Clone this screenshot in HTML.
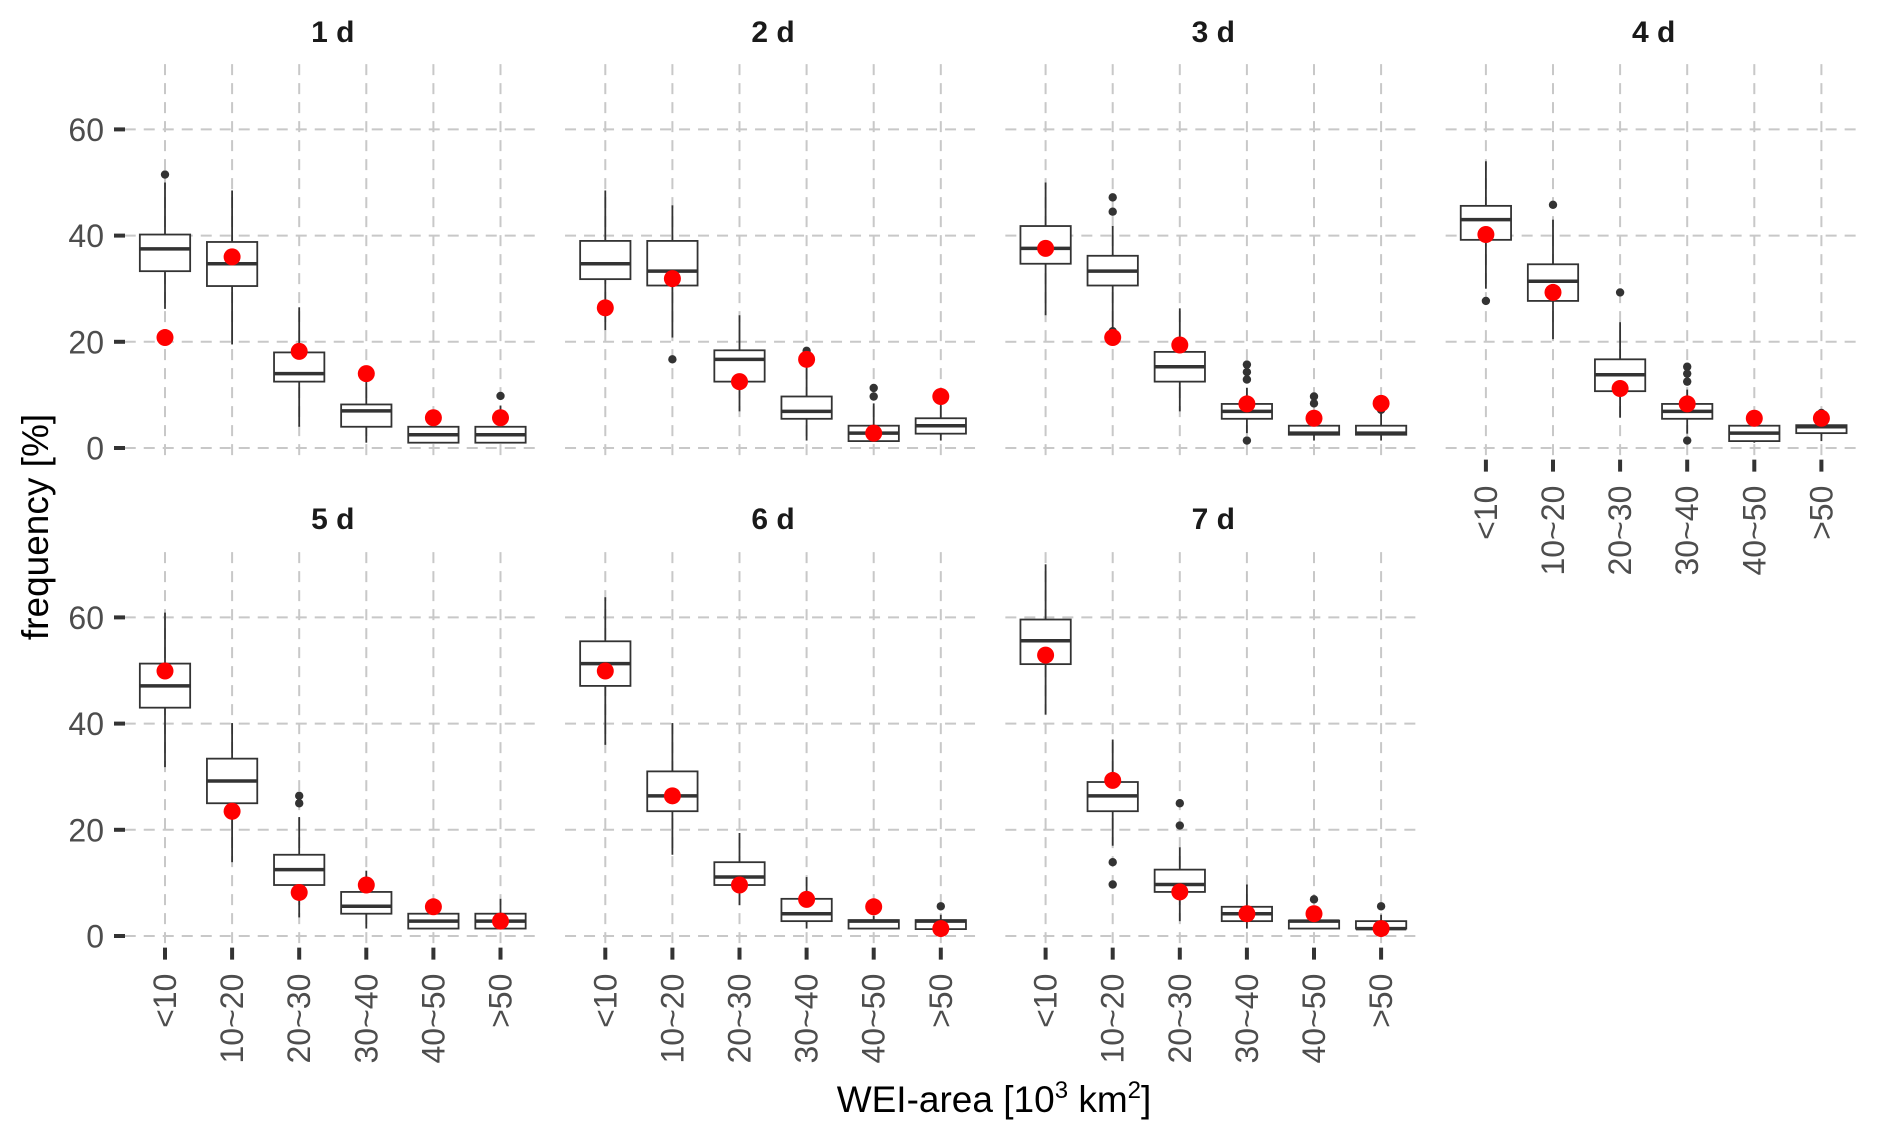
<!DOCTYPE html>
<html><head><meta charset="utf-8">
<style>
html,body{margin:0;padding:0;background:#fff;}
svg{display:block;font-family:"Liberation Sans",Arial,sans-serif;}
</style></head>
<body>
<svg id="chart" width="1879" height="1140" viewBox="0 0 1879 1140"></svg>
<script>
const categories = ["<10","10~20","20~30","30~40","40~50",">50"];
const panelTitles = ["1 d","2 d","3 d","4 d","5 d","6 d","7 d"];
const yTicks = [0,20,40,60];
const q1Vals = [
 [33.3,30.5,12.5,4.0,1.0,1.0],
 [31.8,30.6,12.5,5.5,1.3,2.7],
 [34.7,30.6,12.5,5.5,2.5,2.5],
 [39.2,27.7,10.7,5.5,1.3,2.8],
 [43.0,25.0,9.6,4.2,1.4,1.4],
 [47.1,23.5,9.6,2.8,1.4,1.3],
 [51.2,23.5,8.3,2.8,1.4,1.4]];
const medVals = [
 [37.5,34.7,14.0,7.0,2.5,2.5],
 [34.7,33.3,16.7,6.9,2.8,4.2],
 [37.6,33.3,15.3,6.9,2.8,2.8],
 [43.0,31.4,13.8,6.9,2.8,4.0],
 [47.1,29.2,12.5,5.6,2.8,2.8],
 [51.3,26.4,11.1,4.2,2.8,2.8],
 [55.6,26.4,9.7,4.2,2.8,1.4]];
const q3Vals = [
 [40.2,38.8,18.0,8.2,4.0,4.0],
 [39.0,39.0,18.4,9.7,4.2,5.6],
 [41.8,36.2,18.1,8.3,4.2,4.2],
 [45.6,34.6,16.7,8.3,4.2,4.3],
 [51.3,33.4,15.3,8.3,4.2,4.2],
 [55.5,31.0,13.9,7.0,3.0,3.0],
 [59.6,29.0,12.5,5.5,2.9,2.8]];
const loVals = [
 [26.2,19.5,4.0,1.0,1.0,1.0],
 [22.2,20.8,6.9,1.4,1.3,1.4],
 [25.0,22.6,6.9,2.8,1.4,1.4],
 [30.0,20.5,5.7,2.7,1.0,1.3],
 [31.8,13.9,3.5,1.4,1.4,1.4],
 [36.0,15.3,5.8,1.4,1.4,1.3],
 [41.7,17.0,2.8,1.4,1.4,1.4]];
const hiVals = [
 [50.0,48.5,26.5,14.0,6.5,8.0],
 [48.5,45.7,25.0,18.0,8.4,8.4],
 [50.0,41.8,26.3,11.3,6.6,6.6],
 [54.0,43.0,23.7,11.0,5.8,6.4],
 [60.9,40.1,22.4,12.3,6.6,7.0],
 [63.8,40.1,19.4,11.1,3.8,4.0],
 [70.0,37.0,16.7,9.7,5.0,4.0]];
const outlierVals = [
 [[51.5],[],[],[],[],[9.8]],
 [[],[16.7],[],[18.3],[11.3,9.7],[]],
 [[],[47.2,44.5,22.0],[],[15.7,14.3,12.9,1.4],[9.7,8.4],[7.2]],
 [[27.7],[45.8],[29.3],[15.3,14.0,12.5,1.4],[],[6.6]],
 [[],[],[26.4,25.0],[],[],[]],
 [[],[],[],[],[],[5.6]],
 [[],[13.9,9.7],[25.0,20.8],[],[6.9],[5.6]]];
const observedVals = [
 [20.8,36.0,18.2,14.0,5.7,5.7],
 [26.4,31.9,12.5,16.7,2.8,9.7],
 [37.6,20.8,19.4,8.3,5.6,8.4],
 [40.2,29.3,11.2,8.3,5.6,5.6],
 [49.9,23.5,8.2,9.6,5.5,2.8],
 [49.9,26.4,9.6,6.9,5.5,1.4],
 [52.9,29.3,8.3,4.2,4.2,1.4]];

const NS="http://www.w3.org/2000/svg";
const svg=document.getElementById('chart');
function mk(tag,attrs,parent){const e=document.createElementNS(NS,tag);for(const k in attrs)e.setAttribute(k,attrs[k]);(parent||svg).appendChild(e);return e;}

const catStep=67.1, firstCatX=165, panelStep=440.3;
const rowY0=[448,936], unit=5.31;
const yMin=-2, yMax=72.3;
function xPos(p,c){return firstCatX+(p%4)*panelStep+c*catStep;}
function yPos(p,v){return rowY0[Math.floor(p/4)]-v*unit;}

for(let p=0;p<panelTitles.length;p++){
  const row=Math.floor(p/4), col=p%4;
  const g=mk('g',{});
  
  
  const left=xPos(p,0)-0.6*catStep, right=xPos(p,5)+0.6*catStep;
  const top=yPos(p,yMax), bottom=yPos(p,yMin);
  yTicks.forEach(t=>{
    const l=mk('line',{x1:left,x2:right,y1:yPos(p,t),y2:yPos(p,t),stroke:'#c8c8c8','stroke-width':2,'stroke-dasharray':'11,8'},g);
    
    
  });
  categories.forEach((c,i)=>{
    const l=mk('line',{x1:xPos(p,i),x2:xPos(p,i),y1:top,y2:bottom,stroke:'#c8c8c8','stroke-width':2,'stroke-dasharray':'11,8'},g);
    
    
  });
  const st=mk('text',{x:(left+right)/2,y:row===0?42:529,'text-anchor':'middle','font-size':30,'font-weight':'bold',fill:'#1a1a1a'},g);
  st.textContent=panelTitles[p];
  
  
  if(col===0){
    yTicks.forEach(t=>{
      const tk=mk('line',{x1:114,x2:125,y1:yPos(p,t),y2:yPos(p,t),stroke:'#333','stroke-width':4},g);
      
      
      const tl=mk('text',{x:104,y:yPos(p,t)+11.5,'text-anchor':'end','font-size':32,fill:'#4d4d4d'},g);
      tl.textContent=t;
      
      
    });
  }
  if(row===1||p===3){
    const ty=bottom+1;
    categories.forEach((c,i)=>{
      const tk=mk('line',{x1:xPos(p,i),x2:xPos(p,i),y1:ty,y2:ty+12,stroke:'#333','stroke-width':4},g);
      
      
      const lx=xPos(p,i)+11, ly=ty+26;
      const tl=mk('text',{x:lx,y:ly,'text-anchor':'end','font-size':32,fill:'#4d4d4d',transform:'rotate(-90 '+lx+' '+ly+')'},g);
      tl.textContent=c;
      
      
    });
  }
  const bw=0.75*catStep;
  categories.forEach((c,i)=>{
    const x=xPos(p,i);
    const bg=mk('g',{},g);
    
    
    mk('line',{x1:x,x2:x,y1:yPos(p,hiVals[p][i]),y2:yPos(p,q3Vals[p][i]),stroke:'#333','stroke-width':1.8},bg);
    mk('line',{x1:x,x2:x,y1:yPos(p,q1Vals[p][i]),y2:yPos(p,loVals[p][i]),stroke:'#333','stroke-width':1.8},bg);
    mk('rect',{x:x-bw/2,y:yPos(p,q3Vals[p][i]),width:bw,height:yPos(p,q1Vals[p][i])-yPos(p,q3Vals[p][i]),fill:'#fff',stroke:'#333','stroke-width':1.8},bg);
    mk('line',{x1:x-bw/2,x2:x+bw/2,y1:yPos(p,medVals[p][i]),y2:yPos(p,medVals[p][i]),stroke:'#333','stroke-width':3.5},bg);
    outlierVals[p][i].forEach(v=>{
      const o=mk('circle',{cx:x,cy:yPos(p,v),r:4.2,fill:'#333'},bg);
      
      
    });
  });
  categories.forEach((c,i)=>{
    const d=mk('circle',{cx:xPos(p,i),cy:yPos(p,observedVals[p][i]),r:8.5,fill:'#ff0000'},g);
    
    
  });
}
const xt=mk('text',{x:994,y:1112,'text-anchor':'middle','font-size':37,fill:'#000'});


xt.innerHTML='WEI-area [10<tspan dy="-14" font-size="24">3</tspan><tspan dy="14"> km</tspan><tspan dy="-14" font-size="24">2</tspan><tspan dy="14">]</tspan>';
const yt=mk('text',{x:0,y:0,'text-anchor':'middle','font-size':37,fill:'#000',transform:'translate(48 527) rotate(-90)'});
yt.textContent='frequency [%]';


</script>
</body></html>
